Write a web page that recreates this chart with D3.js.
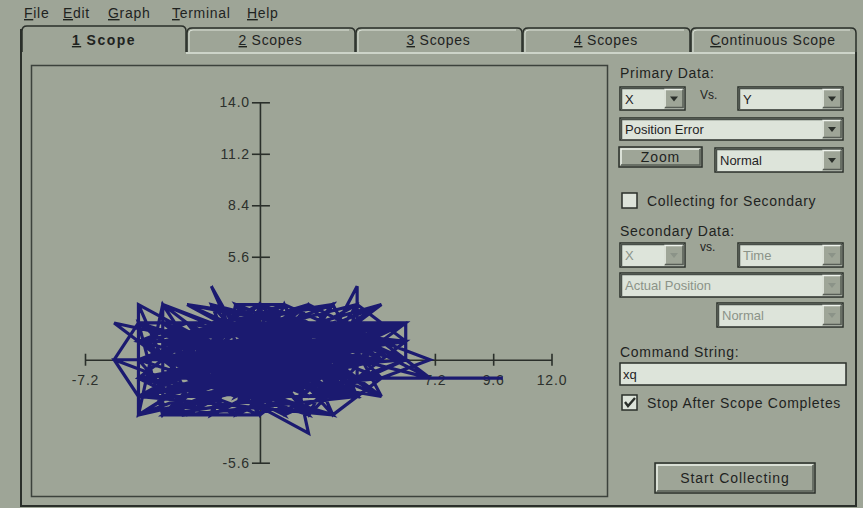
<!DOCTYPE html>
<html lang="en">
<head>
<meta charset="UTF-8">
<title>Scope</title>
<script src="https://d3js.org/d3.v7.min.js"></script>
<style>
  body { margin: 0; background: #9ea597; overflow: hidden; }
  text { font-family: "Liberation Sans", Arial, sans-serif; fill: #1f231f; }
</style>
</head>
<body>
<div id="chart"></div>
<script>
// tick values shown on the axes (the others are hidden under the trace)
const xTicks = [-7.2, 7.2, 9.6, 12.0];
const yTicks = [14.0, 11.2, 8.4, 5.6, -5.6];

// position error trace, X vs Y (counts)
const scopeX = [0,-5,3,1,-1,-2,4,-4,2,-3, 5,-5,-5,-4,6,6,1,-2,-1,3,
  0,-6,-5,2,4,4,-3,0,5,-4, -4,1,-6,-3,2,5,-1,0,3,-2,
  6,-5,1,-1,4,-3,2,-4,5,0, -2,3,7,5,10,4,1,-5,2,1,
  -3,3,-1,4,-4,0,5,-2,3,-5, 6,2,-1,1,-3,4,0,-4,2,5,
  -2,3,-1,0,1,-5,-6,-5,2,4, -3,1,5,7,4,-2,0,3,-4,6,
  -1,2,-5,-5,1,4,3,-2,0,5, -3,2,-4,-1,3,-2,4,1,-4,5,
  0,-3,6,2,-5,1,-1,4,-2,3, 0,-4,5,1,-3,2,-1,3,-5,4,
  0,-2,6,1,-4,3,-1,2,-3,5, 0,-5,4,-2,1,-1,3,-4,2,5,
  -3,0,1,-2,4,-5,2,-1,3,6, 0,-4,-3,1,5,-2,4,-1,2,-5,
  3,0,-3,1,4,-4,2,-1,5,0, -2,3,-4,1,6,2,-3,0,4,-1,
  -5,3,1,-2,5,0,-4,2,-3,4, 1,-1,3,-5,0,2,-2,5,-4,1,
  4,-1,3,0,-3,6,2,-2,1,-5,0,
  -4,-2,-5,-3,-5,-2,-4,-1,-3,-5, -2,0,-4,-1,-3,0,-5,-2,1,-1,
  3,0,4,2,5,3,6,4,2,5, 3,1,4,6,2,5,3,1,4,2,
  -1,-4,-2,-5,-3,0,-2,1,-1,2, 0,3,5,7,4,6,3,1,-1,-3,
  -5,-4,-2,0,2,4,1,-2,-4,-1, 1,3,5,2,0,-3,-5,-4,-1,2,
  4,3,0,-2,-4,-3,-1,1,3,5, 4,2,0,-2,-5,-3,0,2,4,1,
  -1,-3,-4,-2,0];
const scopeY = [0,2,-2,3,3,-3,1,-1,2,-2, 0,-3,3,0,2,0,-3,4,1,3,
  -3,0,2,-1,4,-1,1,2,-2,3, -3,0,2,-1,3,1,-3,3,-1,2,
  1,-1,-2,2,-2,3,0,-2,3,-1, -2,2,0,-1,-1,-1,1,1,-4,2,
  0,0,-2,2,1,1,2,-1,-3,-2, 2,1,0,-1,2,0,-2,2,-3,1,
  1,1,-1,3,3,0,0,-2,2,-2, -3,1,-1,-1,1,3,-3,2,-1,1,
  2,-2,3,-3,2,3,-2,0,1,0, 1,3,-3,-3,0,-2,2,-1,2,2,
  0,-1,0,1,1,-3,1,-1,2,3, -2,0,-2,2,-2,-1,3,1,-1,0,
  2,-3,2,0,1,-1,-1,2,3,1, -1,2,-2,1,-2,0,2,-2,0,3,
  0,3,-3,-1,1,0,-3,2,-2,1, 1,3,2,1,-1,-2,2,-2,3,-2,
  0,-3,-3,0,-1,0,1,1,2,0, 3,-1,-1,3,0,-2,1,2,0,-3,
  1,3,-1,0,0,-1,2,-1,-2,3, 2,0,1,-3,1,2,-1,1,-3,-2,
  -2,3,-3,-2,2,2,0,1,3,0,0,
  -2,-3,-1,1,2,2,0,-1,-3,0, 1,-2,1,2,-1,1,-2,-2,-1,3,
  1,-1,-2,2,0,-2,1,3,-1,2, 0,-3,1,0,1,-2,3,0,-1,-2,
  0,2,0,1,2,-3,3,2,-2,0, 2,-1,1,-1,0,2,2,-2,1,-2,
  -3,3,-1,0,-3,2,1,2,-1,-3, 3,-3,-1,3,-1,0,2,-3,1,1,
  -2,1,-2,1,0,-1,-2,0,-2,0, 1,-1,1,-2,-1,1,3,2,0,-1,
  0,-2,1,0,0];

const menuItems = ["File", "Edit", "Graph", "Terminal", "Help"];
const tabLabels = ["1 Scope", "2 Scopes", "3 Scopes", "4 Scopes", "Continuous Scope"];

const bg = "#9ea597", light = "#dde4da", dark = "#2a2f2a", dim = "#8b9388";

const svg = d3.select("#chart").append("svg")
  .attr("width", 863).attr("height", 508);

svg.append("rect").attr("width", 863).attr("height", 508).attr("fill", bg);

// text with an underlined mnemonic on the first letter
function label(x, y, str, opts = {}) {
  const t = svg.append("text").attr("x", x).attr("y", y)
    .attr("font-size", opts.size || 14)
    .attr("letter-spacing", opts.spacing !== undefined ? opts.spacing : 0.7)
    .attr("font-weight", opts.bold ? "bold" : "normal")
    .attr("text-anchor", opts.anchor || "start");
  if (opts.fill) t.style("fill", opts.fill);
  if (opts.mnemonic) {
    t.append("tspan").style("text-decoration", "underline").text(str[0]);
    t.append("tspan").text(str.slice(1));
  } else {
    t.text(str);
  }
  return t;
}

// menu bar
const menuX = [24, 63, 108, 172, 247];
menuItems.forEach((m, i) => label(menuX[i], 18, m, {mnemonic: true}));

// tabs
const tabEdges = [22, 186, 355, 522, 690, 856];
function tabPath(x0, x1, top, bottom) {
  return `M${x0},${bottom} L${x0},${top + 5} Q${x0},${top} ${x0 + 5},${top} ` +
         `L${x1 - 5},${top} Q${x1},${top} ${x1},${top + 5} L${x1},${bottom}`;
}
svg.append("line").attr("x1", 186).attr("x2", 856).attr("y1", 53).attr("y2", 53)
  .attr("stroke", light).attr("stroke-width", 1.5);
tabLabels.forEach((t, i) => {
  const active = i === 0;
  const x0 = tabEdges[i], x1 = tabEdges[i + 1];
  svg.append("path")
    .attr("d", tabPath(x0 + (active ? 0 : 1), x1, active ? 26 : 28, 52))
    .attr("fill", "none").attr("stroke", dark).attr("stroke-width", 1.5);
  if (!active) {
    svg.append("path").attr("d", `M${x0 + 3},52 L${x0 + 3},33 Q${x0 + 3},30 ${x0 + 7},30 L${x1 - 6},30`)
      .attr("fill", "none").attr("stroke", light).attr("stroke-width", 1);
  }
  label((x0 + x1) / 2, 45, t, {anchor: "middle", bold: active, mnemonic: true,
    spacing: active ? 1.5 : 0.7});
});

// window borders
svg.append("path").attr("d", "M21,29 L21,506 L856,506 L856,52")
  .attr("fill", "none").attr("stroke", dark).attr("stroke-width", 2);

// plot frame
svg.append("rect").attr("x", 31.5).attr("y", 65.5).attr("width", 576).attr("height", 431)
  .attr("fill", bg).attr("stroke", "#3c423c").attr("stroke-width", 1.5);

// scales + axes
const x = d3.scaleLinear().domain([-7.2, 12.0]).range([85, 551.5]);
const y = d3.scaleLinear().domain([-5.6, 14.0]).range([462.7, 102.3]);
const fmt = d => d.toFixed(1);

const gx = svg.append("g").attr("transform", `translate(0,${y(0)})`)
  .call(d3.axisBottom(x).tickValues(xTicks).tickFormat(fmt)
    .tickSizeOuter(0).tickSizeInner(6).tickPadding(9));
const gy = svg.append("g").attr("transform", `translate(${x(0)},0)`)
  .call(d3.axisLeft(y).tickValues(yTicks).tickFormat(fmt)
    .tickSizeOuter(0).tickSizeInner(8).tickPadding(2));

[gx, gy].forEach(g => {
  g.select(".domain").attr("stroke", dark).attr("stroke-width", 1.6);
  g.selectAll(".tick line").attr("stroke", dark).attr("stroke-width", 1.6);
  g.selectAll(".tick text").attr("font-size", 14).attr("letter-spacing", 0.8)
    .attr("font-family", "Liberation Sans, Arial, sans-serif").style("fill", "#2c302c");
});
gx.selectAll(".tick line").attr("y1", -6).attr("y2", 6);
gy.selectAll(".tick line").attr("x1", 10);

// trace
const line = d3.line().x(d => x(d[0])).y(d => y(d[1]));
svg.append("path")
  .datum(scopeX.map((v, i) => [v, scopeY[i]]))
  .attr("d", line)
  .attr("fill", "none")
  .attr("stroke", "#1b1a70")
  .attr("stroke-width", 3.2)
  .attr("stroke-linejoin", "miter");

// right panel widgets
function bevel(x0, y0, w, h, sunken) {
  const hi = sunken ? "#5b615a" : "#eef3ec", lo = sunken ? "#eef3ec" : "#575d56";
  svg.append("path").attr("d", `M${x0},${y0 + h} L${x0},${y0} L${x0 + w},${y0}`)
    .attr("fill", "none").attr("stroke", hi).attr("stroke-width", 1.5);
  svg.append("path").attr("d", `M${x0 + w},${y0} L${x0 + w},${y0 + h} L${x0},${y0 + h}`)
    .attr("fill", "none").attr("stroke", lo).attr("stroke-width", 1.5);
}

function combo(x0, y0, w, h, text, disabled) {
  svg.append("rect").attr("x", x0).attr("y", y0).attr("width", w).attr("height", h)
    .attr("fill", light).attr("stroke", dark).attr("stroke-width", 1.5);
  svg.append("path").attr("d", `M${x0 + 1.5},${y0 + h - 1} L${x0 + 1.5},${y0 + 1.5} L${x0 + w - 1},${y0 + 1.5}`)
    .attr("fill", "none").attr("stroke", "#4a504a").attr("stroke-width", 1.5);
  const bw = 20, bx = x0 + w - bw - 1;
  svg.append("rect").attr("x", bx).attr("y", y0 + 2).attr("width", bw).attr("height", h - 3.5)
    .attr("fill", bg);
  bevel(bx + 1, y0 + 2.5, bw - 2, h - 5, false);
  const cx = bx + bw / 2, cy = y0 + h / 2;
  svg.append("path").attr("d", `M${cx - 4},${cy - 2} L${cx + 4},${cy - 2} L${cx},${cy + 3} Z`)
    .attr("fill", disabled ? dim : dark);
  label(x0 + 5, y0 + h / 2 + 5, text, {size: 13, spacing: 0, fill: disabled ? dim : "#1f231f"});
}

function button(x0, y0, w, h, text) {
  svg.append("rect").attr("x", x0).attr("y", y0).attr("width", w).attr("height", h)
    .attr("fill", bg).attr("stroke", dark).attr("stroke-width", 1.5);
  bevel(x0 + 2, y0 + 2, w - 4, h - 4, false);
  label(x0 + w / 2, y0 + h / 2 + 5, text, {anchor: "middle", spacing: 0.9});
}

function checkbox(x0, y0, checked) {
  svg.append("rect").attr("x", x0).attr("y", y0).attr("width", 15).attr("height", 15)
    .attr("fill", light).attr("stroke", dark).attr("stroke-width", 1.5);
  if (checked) {
    svg.append("path").attr("d", `M${x0 + 3},${y0 + 7} L${x0 + 6},${y0 + 11} L${x0 + 13},${y0 + 3}`)
      .attr("fill", "none").attr("stroke", dark).attr("stroke-width", 2.4);
  }
}

label(620, 78, "Primary Data:");
combo(620, 87, 65, 23, "X", false);
label(700, 99, "Vs.", {size: 12, spacing: 0});
combo(738, 87, 105, 23, "Y", false);
combo(620, 118, 223, 22, "Position Error", false);
button(619, 147, 83, 20, "Zoom");
combo(715, 148, 128, 24, "Normal", false);

checkbox(622, 193, false);
label(647, 206, "Collecting for Secondary");

label(620, 236, "Secondary Data:");
combo(620, 243, 65, 24, "X", true);
label(700, 251, "vs.", {size: 12, spacing: 0});
combo(738, 243, 105, 24, "Time", true);
combo(620, 273, 223, 24, "Actual Position", true);
combo(717, 303, 126, 24, "Normal", true);

label(620, 357, "Command String:");
svg.append("rect").attr("x", 620).attr("y", 363).attr("width", 226).attr("height", 22)
  .attr("fill", light).attr("stroke", dark).attr("stroke-width", 1.5);
label(623, 379, "xq", {size: 13, spacing: 0});

checkbox(622, 395, true);
label(647, 408, "Stop After Scope Completes");

button(655, 463, 160, 30, "Start Collecting");
</script>
</body>
</html>
